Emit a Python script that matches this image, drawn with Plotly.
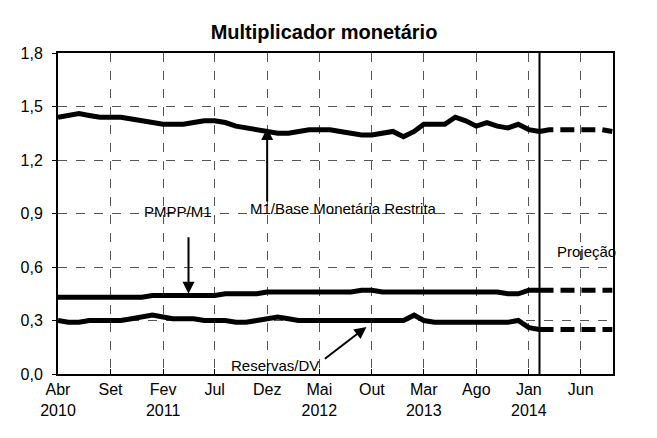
import pandas as pd
import plotly.graph_objects as go

# ---- data ----
months_hist = list(pd.date_range("2010-04-01", "2014-02-01", freq="MS").strftime("%Y-%m-%d"))
months_proj = list(pd.date_range("2014-02-01", "2014-09-01", freq="MS").strftime("%Y-%m-%d"))

m1_base = [1.44, 1.45, 1.46, 1.45, 1.44, 1.44, 1.44, 1.43, 1.42, 1.41,
           1.40, 1.40, 1.40, 1.41, 1.42, 1.42, 1.41, 1.39, 1.38, 1.37,
           1.36, 1.35, 1.35, 1.36, 1.37, 1.37, 1.37, 1.36, 1.35, 1.34,
           1.34, 1.35, 1.36, 1.33, 1.36, 1.40, 1.40, 1.40, 1.44, 1.42,
           1.39, 1.41, 1.39, 1.38, 1.40, 1.37, 1.36]
pmpp_m1 = [0.43, 0.43, 0.43, 0.43, 0.43, 0.43, 0.43, 0.43, 0.43, 0.44,
           0.44, 0.44, 0.44, 0.44, 0.44, 0.44, 0.45, 0.45, 0.45, 0.45,
           0.46, 0.46, 0.46, 0.46, 0.46, 0.46, 0.46, 0.46, 0.46, 0.47,
           0.47, 0.46, 0.46, 0.46, 0.46, 0.46, 0.46, 0.46, 0.46, 0.46,
           0.46, 0.46, 0.46, 0.45, 0.45, 0.47, 0.47]
reservas_dv = [0.30, 0.29, 0.29, 0.30, 0.30, 0.30, 0.30, 0.31, 0.32, 0.33,
               0.32, 0.31, 0.31, 0.31, 0.30, 0.30, 0.30, 0.29, 0.29, 0.30,
               0.31, 0.32, 0.31, 0.30, 0.30, 0.30, 0.30, 0.30, 0.30, 0.30,
               0.30, 0.30, 0.30, 0.30, 0.33, 0.30, 0.29, 0.29, 0.285, 0.285,
               0.29, 0.29, 0.29, 0.29, 0.30, 0.26, 0.25]

m1_base_proj = [1.36, 1.37, 1.37, 1.37, 1.37, 1.37, 1.37, 1.36]
pmpp_m1_proj = [0.47, 0.47, 0.47, 0.47, 0.47, 0.47, 0.47, 0.47]
reservas_dv_proj = [0.25, 0.25, 0.25, 0.25, 0.25, 0.25, 0.25, 0.25]

tick_dates = ["2010-04-01", "2010-09-01", "2011-02-01", "2011-07-01", "2011-12-01",
              "2012-05-01", "2012-10-01", "2013-03-01", "2013-08-01", "2014-01-01",
              "2014-06-01"]
tick_labels = ["Abr<br>2010", "Set", "Fev<br>2011", "Jul", "Dez", "Mai<br>2012",
               "Out", "Mar<br>2013", "Ago", "Jan<br>2014", "Jun"]
y_ticks = [0.0, 0.3, 0.6, 0.9, 1.2, 1.5, 1.8]

FONT = "Liberation Sans, Arial, sans-serif"

fig = go.Figure()
for hist, proj in [(m1_base, m1_base_proj), (pmpp_m1, pmpp_m1_proj),
                   (reservas_dv, reservas_dv_proj)]:
    fig.add_trace(go.Scatter(x=months_hist, y=hist, mode="lines",
                             line=dict(color="black", width=5), showlegend=False))
    fig.add_trace(go.Scatter(x=months_proj, y=proj, mode="lines",
                             line=dict(color="black", width=5, dash="14px,7px"),
                             showlegend=False))

# projection separator
fig.add_shape(type="line", xref="x", yref="paper", x0="2014-02-01", x1="2014-02-01",
              y0=0, y1=1, line=dict(color="black", width=2))

ann_font = dict(family=FONT, size=15, color="black")
fig.add_annotation(x="2012-07-10", y=0.93, text="M1/Base Monetária Restrita",
                   showarrow=False, font=ann_font)
fig.add_annotation(x="2011-12-01", y=1.38, text="", showarrow=True, arrowhead=2,
                   arrowsize=1.2, arrowwidth=2, arrowcolor="black", ax=0, ay=75,
                   standoff=0)
fig.add_annotation(x="2011-03-15", y=0.91, text="PMPP/M1", showarrow=False, font=ann_font)
fig.add_annotation(x="2011-04-16", y=0.45, text="", showarrow=True, arrowhead=2,
                   arrowsize=1.2, arrowwidth=2, arrowcolor="black", ax=0, ay=-58,
                   standoff=0)
fig.add_annotation(x="2011-12-25", y=0.05, text="Reservas/DV", showarrow=False,
                   font=ann_font)
fig.add_annotation(x="2012-09-15", y=0.264, text="", showarrow=True, arrowhead=2,
                   arrowsize=1.2, arrowwidth=2, arrowcolor="black", ax=-43, ay=33,
                   standoff=0)
fig.add_annotation(x="2014-06-18", y=0.685, text="Projeção", showarrow=False,
                   font=ann_font)

fig.update_layout(
    width=657, height=438,
    margin=dict(l=50, r=52, t=45, b=72),
    paper_bgcolor="white", plot_bgcolor="white",
    separators=",.",
    font=dict(family=FONT, color="black", size=16),
    title=dict(text="<b>Multiplicador monetário</b>", x=0.481, xanchor="center",
               y=0.945, yanchor="middle", font=dict(family=FONT, size=20, color="black")),
    showlegend=False,
)
fig.update_xaxes(
    type="date", range=["2010-04-01", "2014-09-03"],
    tickvals=tick_dates, ticktext=tick_labels, tickangle=0,
    showline=True, linecolor="black", linewidth=2, mirror=True,
    ticks="inside", ticklen=5, tickcolor="black",
    showgrid=True, gridcolor="#555", gridwidth=1, griddash="dash",
    tickfont=dict(family=FONT, size=16, color="black"),
)
fig.update_yaxes(
    range=[0, 1.8], tickvals=y_ticks, tickformat=".1f",
    showline=True, linecolor="black", linewidth=2, mirror=True,
    ticks="outside", ticklen=4, tickcolor="black", ticklabelstandoff=6,
    showgrid=True, gridcolor="#555", gridwidth=1, griddash="dash",
    zeroline=False,
    tickfont=dict(family=FONT, size=16, color="black"),
)

fig.write_html("out.html")
